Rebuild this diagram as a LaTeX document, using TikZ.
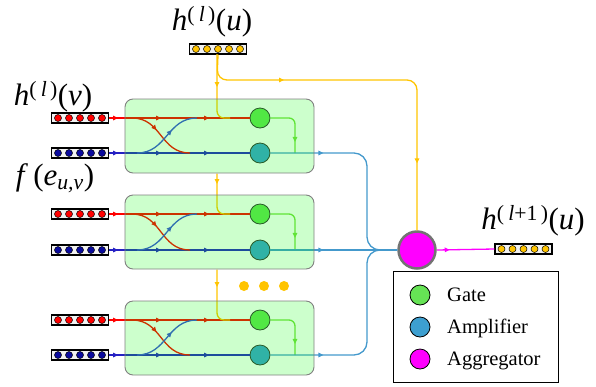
\documentclass[tikz,border=0pt]{standalone}
\usepackage{fontspec}
\setmainfont{Liberation Serif}
\newfontfamily\figfont{Liberation Serif}
\usepackage{tikz}
\usetikzlibrary{arrows.meta}
\usetikzlibrary{decorations.markings}
\usetikzlibrary{calc}
\usetikzlibrary{positioning}

\definecolor{gatecol}{HTML}{66E355}
\definecolor{ampcol}{HTML}{3D9FD0}
\definecolor{aggcol}{HTML}{FF00FF}
\definecolor{featyellow}{HTML}{FFC400}
\definecolor{featblue}{HTML}{0A0A9E}
\definecolor{lineblue}{HTML}{2520C3}
\definecolor{crossblue}{HTML}{3B4BDC}
\definecolor{gateline}{HTML}{77DD44}
\definecolor{ampline}{HTML}{4499CC}

\tikzset{
  vecbox/.style={draw=black,fill=black!5,line width=1.2pt,minimum width=57pt,minimum height=10pt,inner sep=0pt},
  blockbox/.style={draw=black!50,fill=green,fill opacity=0.2,rounded corners=8pt,line width=0.9pt,minimum width=189pt,minimum height=74pt},
  gate/.style={circle,draw=black!80,fill=gatecol,minimum size=20pt,inner sep=0pt,line width=0.8pt},
  amp/.style={circle,draw=black!80,fill=ampcol,minimum size=20pt,inner sep=0pt,line width=0.8pt},
  legdot/.style={circle,draw=black,minimum size=20pt,inner sep=0pt,line width=0.8pt},
  legtext/.style={anchor=west,inner sep=0pt,text height=13.6pt,text depth=0pt,font=\figfont\fontsize{20.5}{24}\selectfont},
  biglabel/.style={inner sep=0pt,font=\figfont\fontsize{31}{36}\selectfont},
  flow/.style={line width=1.3pt},
  arr at/.style={postaction={decorate,decoration={markings,mark=at position #1 with {\arrow{Triangle[length=5pt,width=4.5pt]}}}}},
}

% feature vector: name, position, dot colour
\newcommand{\featvec}[3]{%
  \node[vecbox] (#1) at (#2) {};
  \foreach \k in {-2,...,2}
    \filldraw[fill=#3,draw=black,line width=0.5pt] ($(#1)+(\k*11,0)$) circle (3.5pt);
}
\newcommand{\supl}[1]{\textsuperscript{(\hspace{0.2em}#1\hspace{0.15em})}}

\begin{document}
\begin{tikzpicture}[x=1pt,y=-1pt]
\useasboundingbox (0,0) rectangle (596,386);

% inputs and labels
\featvec{hu}{218,49}{featyellow}
\node[biglabel] (lhu) at (212,22) {\textit{h}\supl{\textit{l}}(\textit{u})};
\node[biglabel] (lhv) at (53,97) {\textit{h}\supl{\textit{l}}(\textit{v})};
\node[biglabel] (lfe) at (55,178) {\textit{f}\,(\textit{e}\textsubscript{\textit{u,v}})};

\node[circle,draw=black!55,line width=2.5pt,fill=aggcol,minimum size=37pt,inner sep=0pt] (agg) at (417,250) {};

% yellow branch to the aggregator
\draw[flow,featyellow,rounded corners=10pt,arr at=88pt,arr at=300pt] (hu.south) -- (217,80) -- (417,80) -- (agg.north);

\foreach \i/\ry/\by/\ys/\ya in {1/118/153/54/33pt, 2/214/250/173.5/10.5pt, 3/320/355/269.5/17.5pt} {
  \featvec{vr\i}{80,\ry}{red}
  \featvec{vb\i}{80,\by}{featblue}
  \node[gate] (gate\i) at (260,\ry) {};
  \node[amp] (amp\i) at (260,\by) {};
  \coordinate (yin\i) at (217,\ys);
  \coordinate (ym\i) at (230,\ry);
  \coordinate (rx\i) at (132,\ry);
  \coordinate (rxe\i) at (190,\by);
  \coordinate (bx\i) at (137,\by);
  \coordinate (bxe\i) at (197,\ry);
  \coordinate (gj\i) at (295,\by);
  \draw[flow,red,arr at=9pt,arr at=52pt,arr at=100pt] (vr\i.east) -- (gate\i.west);
  \draw[flow,lineblue,arr at=9pt,arr at=52pt,arr at=100pt] (vb\i.east) -- (amp\i.west);
  \draw[flow,red,arr at=0.4] (rx\i) .. controls (162,\ry) and (160,\by) .. (rxe\i);
  \draw[flow,crossblue,arr at=0.6] (bx\i) .. controls (167,\by) and (167,\ry) .. (bxe\i);
  \draw[flow,featyellow,rounded corners=7pt,arr at=\ya] (yin\i) |- (ym\i);
  \draw[flow,gateline,rounded corners=6pt,arr at=46pt] (gate\i.east) -| (gj\i);
}

% amplifier outputs
\draw[flow,ampline,rounded corners=13pt,arr at=53pt] (amp1.east) -- (367,153) -- (367,250) -- (agg.west);
\draw[flow,ampline,arr at=53pt] (amp2.east) -- (agg.west);
\draw[flow,ampline,rounded corners=13pt,arr at=53pt] (amp3.east) -- (367,355) -- (367,250) -- (agg.west);

% blocks on top
\foreach \i/\cy in {1/136, 2/232, 3/338}
  \node[blockbox] (blk\i) at (219.5,\cy) {};

\foreach \x [count=\n] in {244,264,284}
  \fill[featyellow] (\x,286) circle (5pt) coordinate (dot\n);

% output
\featvec{hout}{523.5,249}{featyellow}
\draw[flow,aggcol,arr at=13pt] (agg.east) -- (hout.west);
\node[biglabel] (lhout) at (533,221) {\textit{h}\supl{\textit{l}+1}(\textit{u})};

% legend
\node[draw,line width=1pt,minimum width=165pt,minimum height=111pt,inner sep=0pt] (legend) at (475.5,326.5) {};
\node[legdot,fill=gatecol] (lgate) at (420,295) {};
\node[legdot,fill=ampcol] (lamp) at (420,327) {};
\node[legdot,fill=aggcol] (lagg) at (420,359) {};
\node[legtext] (tgate) at (447,295) {Gate};
\node[legtext] (tamp) at (447,327) {Amplifier};
\node[legtext] (tagg) at (447,359) {Aggregator};
\end{tikzpicture}
\end{document}
